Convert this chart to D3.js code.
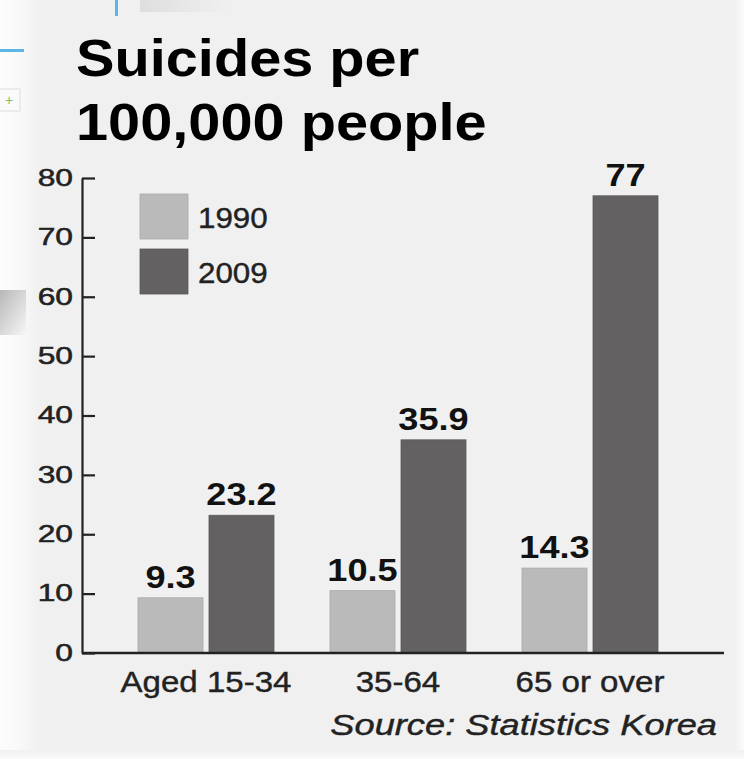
<!DOCTYPE html>
<html>
<head>
<meta charset="utf-8">
<script src="https://cdn.jsdelivr.net/npm/d3@7"></script>
<style>
  html, body { margin: 0; padding: 0; background: #ffffff; }
  svg { display: block; }
  .txt { font-family: "Liberation Sans", Arial, Helvetica, sans-serif; }
</style>
</head>
<body>
<svg id="chart" width="744" height="759"></svg>
<script>
// data
const categories = ["Aged 15-34", "35-64", "65 or over"];
const series = ["1990", "2009"];
const values1990 = [9.3, 10.5, 14.3];
const values2009 = [23.2, 35.9, 77];
const valueLabels1990 = ["9.3", "10.5", "14.3"];
const valueLabels2009 = ["23.2", "35.9", "77"];
const yTicks = [0, 10, 20, 30, 40, 50, 60, 70, 80];
const titleLines = ["Suicides per", "100,000 people"];
const sourceText = "Source: Statistics Korea";

const colors = { "1990": "#b9bab9", "2009": "#636162" };
const ink = "#222";

const width = 744;
const height = 759;
const svg = d3.select("#chart");

// background panel with soft edges
const defs = svg.append("defs");
const leftFade = defs.append("linearGradient").attr("id", "leftFade").attr("x1", 0).attr("x2", 1);
leftFade.append("stop").attr("offset", 0).attr("stop-color", "#fdfdfd");
leftFade.append("stop").attr("offset", 0.45).attr("stop-color", "#f9f9f9");
leftFade.append("stop").attr("offset", 1).attr("stop-color", "#f0f0f0");
const shadowFade = defs.append("linearGradient").attr("id", "shadowFade").attr("x1", 0).attr("x2", 1).attr("y1", 0).attr("y2", 1);
shadowFade.append("stop").attr("offset", 0).attr("stop-color", "#9a9a9a");
shadowFade.append("stop").attr("offset", 1).attr("stop-color", "#f6f6f6");
const topFade = defs.append("linearGradient").attr("id", "topFade").attr("x1", 0).attr("x2", 1);
topFade.append("stop").attr("offset", 0).attr("stop-color", "#dedede");
topFade.append("stop").attr("offset", 1).attr("stop-color", "#f0f0f0");
const rightFade = defs.append("linearGradient").attr("id", "rightFade").attr("x1", 0).attr("x2", 1);
rightFade.append("stop").attr("offset", 0).attr("stop-color", "#f0f0f0");
rightFade.append("stop").attr("offset", 1).attr("stop-color", "#fbfbfb");
const bottomFade = defs.append("linearGradient").attr("id", "bottomFade").attr("x1", 0).attr("x2", 0).attr("y1", 0).attr("y2", 1);
bottomFade.append("stop").attr("offset", 0).attr("stop-color", "#f0f0f0");
bottomFade.append("stop").attr("offset", 1).attr("stop-color", "#fbfbfb");

svg.append("rect").attr("width", width).attr("height", height).attr("fill", "#f0f0f0");
svg.append("rect").attr("x", 0).attr("y", 0).attr("width", 40).attr("height", height).attr("fill", "url(#leftFade)");
svg.append("rect").attr("x", 734).attr("y", 0).attr("width", 10).attr("height", height).attr("fill", "url(#rightFade)");
svg.append("rect").attr("x", 0).attr("y", 750).attr("width", width).attr("height", 9).attr("fill", "url(#bottomFade)");
svg.append("rect").attr("x", 0).attr("y", 290).attr("width", 26).attr("height", 45).attr("fill", "url(#shadowFade)").attr("opacity", 0.7);
svg.append("rect").attr("x", 140).attr("y", 0).attr("width", 90).attr("height", 12).attr("fill", "url(#topFade)");
svg.append("rect").attr("x", 115).attr("y", 0).attr("width", 3).attr("height", 16).attr("fill", "#5bb5e6");
svg.append("rect").attr("x", 0).attr("y", 49).attr("width", 24).attr("height", 3).attr("fill", "#5bb5e6");
svg.append("rect").attr("x", -2).attr("y", 89).attr("width", 22).attr("height", 22).attr("fill", "#fafafa").attr("stroke", "#dcdcdc");
svg.append("text").attr("class", "txt").attr("x", 9).attr("y", 105).attr("text-anchor", "middle")
  .attr("font-size", 14).attr("fill", "#7cbf6a").text("+");

// helper: text stretched horizontally around its anchor
function stretchedText(parent, x, y, sx, str) {
  return parent.append("text")
    .attr("class", "txt")
    .attr("transform", `translate(${x},${y}) scale(${sx},1)`)
    .text(str);
}

// title
titleLines.forEach((line, i) => {
  stretchedText(svg, 76, 76 + i * 64, 1.11, line)
    .attr("font-size", 52)
    .attr("font-weight", "bold")
    .attr("fill", "#000");
});

// scales
const y = d3.scaleLinear().domain([0, 80]).range([653, 178]);
const x = d3.scaleBand().domain(categories).range([138, 658]).paddingInner(0.2917).paddingOuter(0);
const xSub = d3.scaleBand().domain(series).range([0, x.bandwidth()]).paddingInner(6 / 71);

const axisX = 82;

// y axis, ticks pointing inward
const tickSx = 1.38;
const yAxis = d3.axisLeft(y)
  .tickValues(yTicks)
  .tickSizeInner(-13)
  .tickSizeOuter(0)
  .tickPadding(9);

const yAxisG = svg.append("g")
  .attr("transform", `translate(${axisX},0)`)
  .call(yAxis);
yAxisG.attr("font-family", null).attr("font-size", null);
yAxisG.select(".domain").attr("stroke", ink).attr("stroke-width", 2.2);
yAxisG.selectAll(".tick line").attr("stroke", ink).attr("stroke-width", 2.2);
yAxisG.selectAll(".tick text")
  .attr("class", "txt")
  .attr("font-size", 23)
  .attr("fill", ink)
  .attr("stroke", ink)
  .attr("stroke-width", 0.5)
  .attr("x", -9 / tickSx)
  .attr("transform", `scale(${tickSx},1)`);

// bars
const rows = categories.map((cat, i) => ({
  cat,
  bars: [
    { key: "1990", value: values1990[i], label: valueLabels1990[i] },
    { key: "2009", value: values2009[i], label: valueLabels2009[i] }
  ]
}));

const groups = svg.append("g").selectAll("g")
  .data(rows)
  .join("g")
  .attr("transform", (d) => `translate(${x(d.cat)},0)`);

groups.selectAll("rect")
  .data((d) => d.bars)
  .join("rect")
  .attr("x", (d) => xSub(d.key))
  .attr("y", (d) => y(d.value))
  .attr("width", xSub.bandwidth())
  .attr("height", (d) => y(0) - y(d.value))
  .attr("fill", (d) => colors[d.key])
  .attr("stroke", (d) => d3.color(colors[d.key]).darker(0.25))
  .attr("stroke-width", 0.8);

groups.selectAll("text.value")
  .data((d) => d.bars)
  .join("text")
  .attr("class", "txt value")
  .attr("text-anchor", "middle")
  .attr("font-size", 32)
  .attr("font-weight", "bold")
  .attr("fill", "#111")
  .attr("transform", (d) => `translate(${xSub(d.key) + xSub.bandwidth() / 2},${y(d.value) - 10}) scale(1.13,1)`)
  .text((d) => d.label);

// baseline
svg.append("line")
  .attr("x1", axisX)
  .attr("x2", 724)
  .attr("y1", y(0))
  .attr("y2", y(0))
  .attr("stroke", ink)
  .attr("stroke-width", 2.6);

// category labels
categories.forEach((cat) => {
  stretchedText(svg, x(cat) + x.bandwidth() / 2, 692, 1.14, cat)
    .attr("text-anchor", "middle")
    .attr("font-size", 29)
    .attr("fill", ink)
    .attr("stroke", ink)
    .attr("stroke-width", 0.4);
});

// legend
const legend = svg.append("g");
series.forEach((key, i) => {
  legend.append("rect")
    .attr("x", 140)
    .attr("y", 194 + i * 55)
    .attr("width", 48)
    .attr("height", 45)
    .attr("fill", colors[key])
    .attr("stroke", d3.color(colors[key]).darker(0.25))
    .attr("stroke-width", 0.8);
  stretchedText(legend, 198, 228 + i * 55, 1.08, key)
    .attr("font-size", 29)
    .attr("fill", ink)
    .attr("stroke", ink)
    .attr("stroke-width", 0.4);
});

// source
stretchedText(svg, 717, 735, 1.25, sourceText)
  .attr("text-anchor", "end")
  .attr("font-size", 29)
  .attr("font-style", "italic")
  .attr("fill", ink)
  .attr("stroke", ink)
  .attr("stroke-width", 0.4);
</script>
</body>
</html>
